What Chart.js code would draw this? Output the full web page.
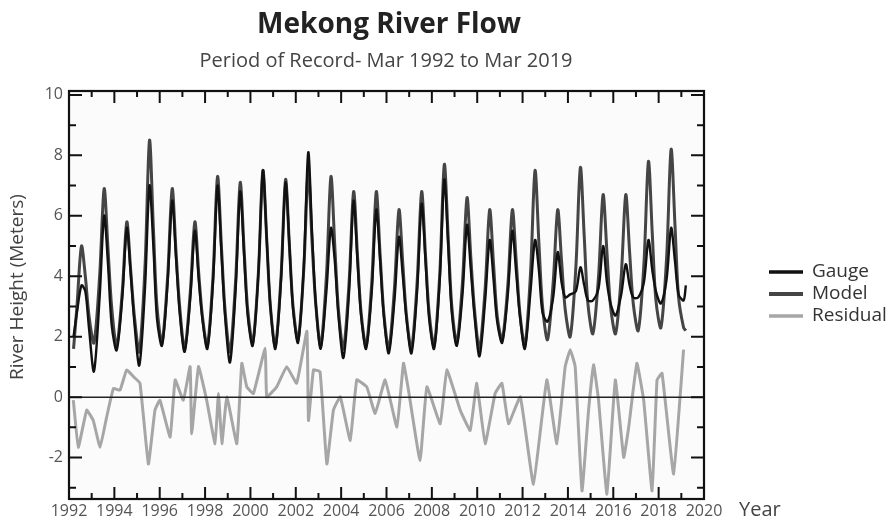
<!DOCTYPE html>
<html>
<head>
<meta charset="utf-8">
<title>Mekong River Flow</title>
<script src="https://cdn.jsdelivr.net/npm/chart.js@4.4.1/dist/chart.umd.min.js"></script>
<style>
html, body { margin: 0; padding: 0; background: #fff; }
</style>
</head>
<body>
<canvas id="riverChart" width="896" height="520"></canvas>
<script>
// time points (decimal years) shared by gauge and model
const flowTimes = [
  1992.2, 1992.35, 1992.55, 1992.72, 1992.88,
  1993.1, 1993.35, 1993.55, 1993.72, 1993.88,
  1994.1, 1994.35, 1994.55, 1994.72, 1994.88,
  1995.1, 1995.35, 1995.55, 1995.72, 1995.88,
  1996.1, 1996.35, 1996.55, 1996.72, 1996.88,
  1997.1, 1997.35, 1997.55, 1997.72, 1997.88,
  1998.1, 1998.35, 1998.55, 1998.72, 1998.88,
  1999.1, 1999.35, 1999.55, 1999.72, 1999.88,
  2000.1, 2000.35, 2000.55, 2000.72, 2000.88,
  2001.1, 2001.35, 2001.55, 2001.72, 2001.88,
  2002.1, 2002.35, 2002.55, 2002.72, 2002.88,
  2003.1, 2003.35, 2003.55, 2003.72, 2003.88,
  2004.1, 2004.35, 2004.55, 2004.72, 2004.88,
  2005.1, 2005.35, 2005.55, 2005.72, 2005.88,
  2006.1, 2006.35, 2006.55, 2006.72, 2006.88,
  2007.1, 2007.35, 2007.55, 2007.72, 2007.88,
  2008.1, 2008.35, 2008.55, 2008.72, 2008.88,
  2009.1, 2009.35, 2009.55, 2009.72, 2009.88,
  2010.1, 2010.35, 2010.55, 2010.72, 2010.88,
  2011.1, 2011.35, 2011.55, 2011.72, 2011.88,
  2012.1, 2012.35, 2012.55, 2012.72, 2012.88,
  2013.1, 2013.35, 2013.55, 2013.72, 2013.88,
  2014.1, 2014.35, 2014.55, 2014.72, 2014.88,
  2015.1, 2015.35, 2015.55, 2015.72, 2015.88,
  2016.1, 2016.35, 2016.55, 2016.72, 2016.88,
  2017.1, 2017.35, 2017.55, 2017.72, 2017.88,
  2018.1, 2018.35, 2018.55, 2018.72, 2018.88,
  2019.1, 2019.2
];

const modelHeight = [
  1.6, 3.0, 5.0, 4.0, 2.7,
  1.8, 4.0, 6.9, 4.9, 3.0,
  1.7, 3.5, 5.8, 4.2, 2.7,
  1.5, 4.3, 8.5, 5.6, 3.0,
  1.8, 4.0, 6.9, 4.8, 3.0,
  1.6, 3.5, 5.8, 4.1, 2.7,
  1.7, 4.0, 7.3, 5.0, 2.9,
  1.5, 3.9, 7.1, 4.9, 2.9,
  1.8, 4.1, 7.5, 5.2, 3.0,
  1.7, 4.0, 7.2, 5.0, 3.0,
  1.9, 4.2, 7.5, 5.1, 3.1,
  1.7, 4.0, 7.3, 5.0, 2.9,
  1.6, 3.8, 6.8, 4.7, 2.8,
  1.7, 3.8, 6.8, 4.7, 2.8,
  1.6, 3.6, 6.2, 4.4, 2.7,
  1.6, 3.8, 6.8, 4.7, 2.8,
  1.7, 4.1, 7.7, 5.3, 3.0,
  1.8, 3.8, 6.6, 4.6, 2.9,
  1.6, 3.6, 6.2, 4.4, 2.7,
  1.9, 3.7, 6.2, 4.5, 2.8,
  1.7, 4.1, 7.5, 5.1, 3.0,
  1.9, 3.8, 6.2, 4.5, 2.9,
  2.0, 4.3, 7.6, 5.3, 3.1,
  2.1, 4.0, 6.7, 4.8, 3.0,
  2.1, 4.0, 6.7, 4.8, 3.1,
  2.2, 4.4, 7.8, 5.4, 3.2,
  2.3, 4.6, 8.2, 5.7, 3.3,
  2.3, 2.2
];

const gaugeHeight = [
  2.0, 2.8, 3.7, 3.5, 2.3,
  0.85, 3.3, 6.0, 4.4, 2.4,
  1.55, 3.3, 5.6, 4.1, 2.5,
  1.05, 3.6, 7.0, 5.0, 2.6,
  1.7, 3.8, 6.5, 4.6, 2.8,
  1.5, 3.3, 5.5, 3.9, 2.6,
  1.6, 3.8, 7.0, 4.8, 2.7,
  1.15, 3.6, 6.8, 4.7, 2.7,
  1.7, 4.1, 7.5, 5.2, 3.0,
  1.6, 3.9, 7.1, 5.0, 2.9,
  1.8, 4.3, 8.1, 5.4, 3.1,
  1.6, 3.5, 5.6, 4.5, 2.7,
  1.3, 3.5, 6.5, 4.5, 2.7,
  1.6, 3.5, 6.2, 4.5, 2.7,
  1.45, 3.2, 5.3, 4.0, 2.6,
  1.45, 3.5, 6.4, 4.5, 2.6,
  1.6, 3.9, 7.2, 5.0, 2.8,
  1.7, 3.4, 5.7, 4.2, 2.7,
  1.35, 3.2, 5.2, 3.9, 2.5,
  1.8, 3.4, 5.5, 4.1, 2.7,
  1.6, 3.5, 5.2, 4.2, 2.8,
  2.5, 3.3, 4.8, 3.8, 3.3,
  3.4, 3.5, 4.3, 3.7, 3.2,
  3.2, 3.6, 5.0, 3.8, 3.1,
  2.7, 3.4, 4.4, 3.7, 3.3,
  3.3, 3.8, 5.2, 4.2, 3.5,
  3.1, 3.9, 5.6, 4.5, 3.4,
  3.2, 3.7
];

const residualTimes = [
  1992.19, 1992.41, 1992.78, 1993.07, 1993.37, 1993.66, 1993.96, 1994.25, 1994.54, 1994.84,
  1995.13, 1995.5, 1995.79, 1996.01, 1996.46, 1996.68, 1997.04, 1997.34, 1997.41, 1997.71,
  1998.07, 1998.44, 1998.59, 1998.74, 1998.96, 1999.4, 1999.62, 1999.84, 2000.13, 2000.65,
  2000.72, 2001.16, 2001.6, 2002.04, 2002.49, 2002.56, 2002.78, 2003.07, 2003.37, 2003.66,
  2003.96, 2004.4, 2004.69, 2005.13, 2005.5, 2005.94, 2006.46, 2006.75, 2006.97, 2007.48,
  2007.78, 2008.37, 2008.66, 2009.25, 2009.69, 2009.98, 2010.35, 2010.79, 2011.09, 2011.38,
  2011.9, 2012.48, 2013.07, 2013.51, 2013.88, 2014.1, 2014.32, 2014.62, 2014.91, 2015.13,
  2015.35, 2015.72, 2016.09, 2016.46, 2016.68, 2017.04, 2017.34, 2017.71, 2017.93, 2018.15,
  2018.66, 2019.1
];

const residualHeight = [
  -0.1, -1.66, -0.43, -0.77, -1.66, -0.66, 0.29, 0.23, 0.9, 0.68,
  0.46, -2.21, -0.43, -0.1, -1.32, 0.57, -0.1, 1.01, -1.21, 1.01,
  -0.1, -1.54, 0.12, -1.54, 0.01, -1.54, 1.12, 0.34, 0.12, 1.62,
  0.01, 0.34, 1.01, 0.46, 2.18, -0.77, 0.9, 0.84, -2.21, -0.43,
  0.01, -1.43, 0.57, 0.34, -0.54, 0.57, -0.99, 1.12, 0.23, -2.1,
  0.34, -0.88, 0.9, -0.43, -1.1, 0.46, -1.54, 0.12, 0.46, -0.88,
  0.01, -2.88, 0.57, -1.54, 1.01, 1.57, 1.01, -3.1, -0.43, 1.07,
  -0.1, -3.21, 0.57, -1.99, -0.99, 1.12, -0.1, -3.1, 0.57, 0.79,
  -2.54, 1.57
];

const yearTicks = [1992, 1994, 1996, 1998, 2000, 2002, 2004, 2006, 2008, 2010, 2012, 2014, 2016, 2018, 2020];
const heightTicks = [-2, 0, 2, 4, 6, 8, 10];
const seriesNames = ['Gauge', 'Model', 'Residual'];
const seriesColors = ['#111111', '#454545', '#a6a6a6'];
const seriesWidths = [2.4, 3, 3];

function toPoints(xs, ys) {
  return xs.map((x, i) => ({ x: x, y: ys[i] }));
}

const font = '"Open Sans", "DejaVu Sans", sans-serif';

// frame, inward ticks, labels, titles and the legend
const decorPlugin = {
  id: 'decor',
  beforeDatasetsDraw(chart) {
    const { ctx, chartArea: a } = chart;
    ctx.save();
    ctx.fillStyle = '#fbfbfb';
    ctx.fillRect(a.left, a.top, a.right - a.left, a.bottom - a.top);
    ctx.restore();
  },
  afterDatasetsDraw(chart) {
    const { ctx, chartArea: a, scales } = chart;
    const xs = scales.x, ys = scales.y;
    ctx.save();
    // zero line
    ctx.strokeStyle = '#222';
    ctx.lineWidth = 1.5;
    const y0 = ys.getPixelForValue(0);
    ctx.beginPath(); ctx.moveTo(a.left, y0); ctx.lineTo(a.right, y0); ctx.stroke();

    // ticks
    ctx.strokeStyle = '#111';
    ctx.lineWidth = 2;
    ctx.beginPath();
    for (let yr = 1993; yr < 2020; yr++) {
      const px = xs.getPixelForValue(yr);
      const len = yr % 2 === 0 ? 12 : 6;
      ctx.moveTo(px, a.bottom); ctx.lineTo(px, a.bottom - len);
      ctx.moveTo(px, a.top); ctx.lineTo(px, a.top + len);
    }
    for (let v = -3; v <= 10; v++) {
      const py = ys.getPixelForValue(v);
      const len = v % 2 === 0 ? 13 : 7;
      ctx.moveTo(a.left, py); ctx.lineTo(a.left + len, py);
      ctx.moveTo(a.right, py); ctx.lineTo(a.right - len, py);
    }
    ctx.stroke();

    // frame
    ctx.lineWidth = 2.2;
    ctx.strokeRect(a.left, a.top, a.right - a.left, a.bottom - a.top);

    // tick labels
    ctx.fillStyle = '#555';
    ctx.font = '16px ' + font;
    ctx.textAlign = 'center';
    ctx.textBaseline = 'middle';
    yearTicks.forEach(t => ctx.fillText(String(t), xs.getPixelForValue(t), 511));
    ctx.textAlign = 'right';
    heightTicks.forEach(t => ctx.fillText(String(t), 63, ys.getPixelForValue(t)));

    // axis titles
    ctx.fillStyle = '#444';
    ctx.font = '20px ' + font;
    ctx.textAlign = 'left';
    ctx.fillText('Year', 739, 510);
    ctx.save();
    ctx.translate(18, 287);
    ctx.rotate(-Math.PI / 2);
    ctx.textAlign = 'center';
    ctx.font = '19px ' + font;
    ctx.fillText('River Height (Meters)', 0, 0);
    ctx.restore();

    // titles
    ctx.textAlign = 'center';
    ctx.textBaseline = 'alphabetic';
    ctx.fillStyle = '#222';
    ctx.font = 'bold 28px ' + font;
    ctx.fillText('Mekong River Flow', 389, 33);
    ctx.fillStyle = '#444';
    ctx.font = '20px ' + font;
    ctx.fillText('Period of Record- Mar 1992 to Mar 2019', 386, 67);

    // legend
    ctx.textAlign = 'left';
    ctx.textBaseline = 'middle';
    ctx.font = '19px ' + font;
    seriesNames.forEach((name, i) => {
      const ly = 272 + i * 22;
      ctx.strokeStyle = seriesColors[i];
      ctx.lineWidth = i === 1 ? 4 : 3.5;
      ctx.beginPath(); ctx.moveTo(769, ly); ctx.lineTo(803, ly); ctx.stroke();
      ctx.fillStyle = '#333';
      ctx.fillText(name, 812, ly);
    });
    ctx.restore();
  }
};

const ctx = document.getElementById('riverChart').getContext('2d');
new Chart(ctx, {
  type: 'line',
  data: {
    datasets: [
      {
        label: seriesNames[0],
        data: toPoints(flowTimes, gaugeHeight),
        borderColor: seriesColors[0],
        borderWidth: seriesWidths[0],
        pointRadius: 0,
        tension: 0.3,
        order: 0
      },
      {
        label: seriesNames[1],
        data: toPoints(flowTimes, modelHeight),
        borderColor: seriesColors[1],
        borderWidth: seriesWidths[1],
        pointRadius: 0,
        tension: 0.3,
        order: 1
      },
      {
        label: seriesNames[2],
        data: toPoints(residualTimes, residualHeight),
        borderColor: seriesColors[2],
        borderWidth: seriesWidths[2],
        pointRadius: 0,
        tension: 0.1,
        order: 2
      }
    ]
  },
  options: {
    responsive: false,
    animation: false,
    devicePixelRatio: 1,
    layout: { padding: { left: 69, right: 192, top: 91, bottom: 21 } },
    plugins: {
      legend: { display: false },
      tooltip: { enabled: false }
    },
    scales: {
      x: { type: 'linear', min: 1992, max: 2020, display: false },
      y: { type: 'linear', min: -3.37, max: 10.13, display: false }
    }
  },
  plugins: [decorPlugin]
});
</script>
</body>
</html>
